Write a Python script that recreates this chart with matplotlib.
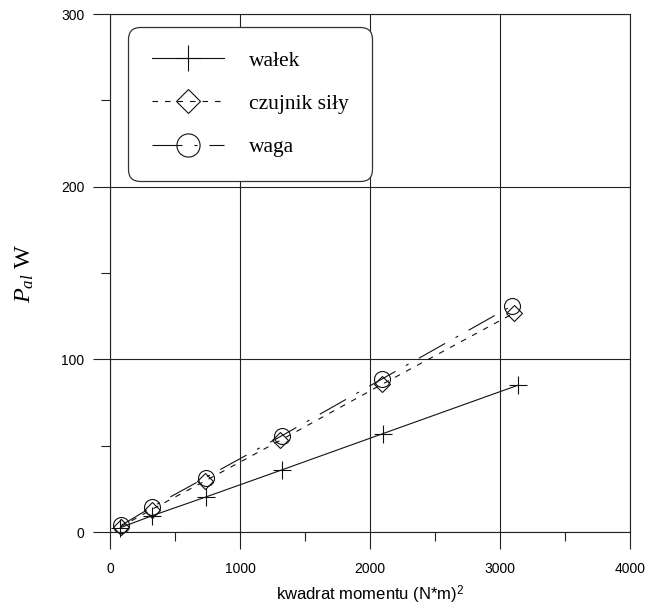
import matplotlib
matplotlib.use("Agg")
import matplotlib.pyplot as plt
from matplotlib.ticker import MultipleLocator

# pomiary mocy strat w funkcji kwadratu momentu
x_walek = [80, 323, 738, 1323, 2100, 3138]
y_walek = [2.5, 9.4, 20.3, 36, 57, 85]
x_czujnik = [82, 320, 730, 1308, 2092, 3108]
y_czujnik = [3, 13, 29.5, 53, 85.5, 126.8]
x_waga = [85, 323, 735, 1323, 2092, 3092]
y_waga = [3.8, 14.5, 31.5, 55.8, 88.6, 131]

labels = ["wałek", "czujnik siły", "waga"]

plt.rcParams['lines.scale_dashes'] = False
plt.rcParams['mathtext.fontset'] = 'custom'
plt.rcParams['mathtext.rm'] = 'Liberation Serif'
plt.rcParams['mathtext.it'] = 'Liberation Serif:italic'
plt.rcParams['mathtext.sf'] = 'Liberation Sans'
plt.rcParams['font.family'] = ['Liberation Sans', 'DejaVu Sans']

fig = plt.figure(figsize=(6.48, 6.07), dpi=100)
ax = fig.add_axes([110 / 648, 1 - 532 / 607, 520 / 648, 518 / 607])

lc = '#111111'
ax.plot(x_walek, y_walek, color=lc, lw=0.8, marker='+', ms=12.5, mew=0.8,
        clip_on=False, label=labels[0])
ax.plot(x_czujnik, y_czujnik, color=lc, lw=0.8, ls=(0, (4, 5)), marker='D',
        ms=8.6, mew=0.8, fillstyle='none', clip_on=False, label=labels[1])
ax.plot(x_waga, y_waga, color=lc, lw=0.8, ls=(0, (21.6, 8.6, 2.2, 8.6)),
        marker='o', ms=11.5, mew=0.8, fillstyle='none', clip_on=False,
        label=labels[2])

ax.set_xlim(0, 4000)
ax.set_ylim(0, 300)
ax.xaxis.set_major_locator(MultipleLocator(1000))
ax.xaxis.set_minor_locator(MultipleLocator(500))
ax.yaxis.set_major_locator(MultipleLocator(100))
ax.yaxis.set_minor_locator(MultipleLocator(50))

ax.grid(True, which='major', color='#222222', lw=0.8)
for sp in ax.spines.values():
    sp.set_color('#222222')
    sp.set_linewidth(0.8)

ax.tick_params(axis='both', which='major', direction='out', length=12.5,
               width=0.8, color='#222222', labelsize=10)
ax.tick_params(axis='both', which='minor', direction='out', length=6.5,
               width=0.8, color='#222222')
ax.tick_params(axis='x', which='major', pad=9)
ax.tick_params(axis='y', which='major', pad=6)

ax.set_xlabel(r'kwadrat momentu (N*m)$^{\mathsf{2}}$', fontsize=12, labelpad=6)
ax.set_ylabel(r'$P_{al}$ W', fontsize=17.5, family='Liberation Serif',
              labelpad=18)

leg = ax.legend(loc='upper left', bbox_to_anchor=(0.0346, 0.975),
                borderaxespad=0, prop={'family': 'Liberation Serif', 'size': 15.5},
                handlelength=3.35, handletextpad=1.16, borderpad=1.1,
                labelspacing=1.08, markerscale=1.45, fancybox=True,
                framealpha=1, edgecolor='#333333')
leg.get_frame().set_linewidth(0.9)
leg.get_frame().set_boxstyle('round,pad=0,rounding_size=0.55')

fig.savefig('out.png', dpi=100)
